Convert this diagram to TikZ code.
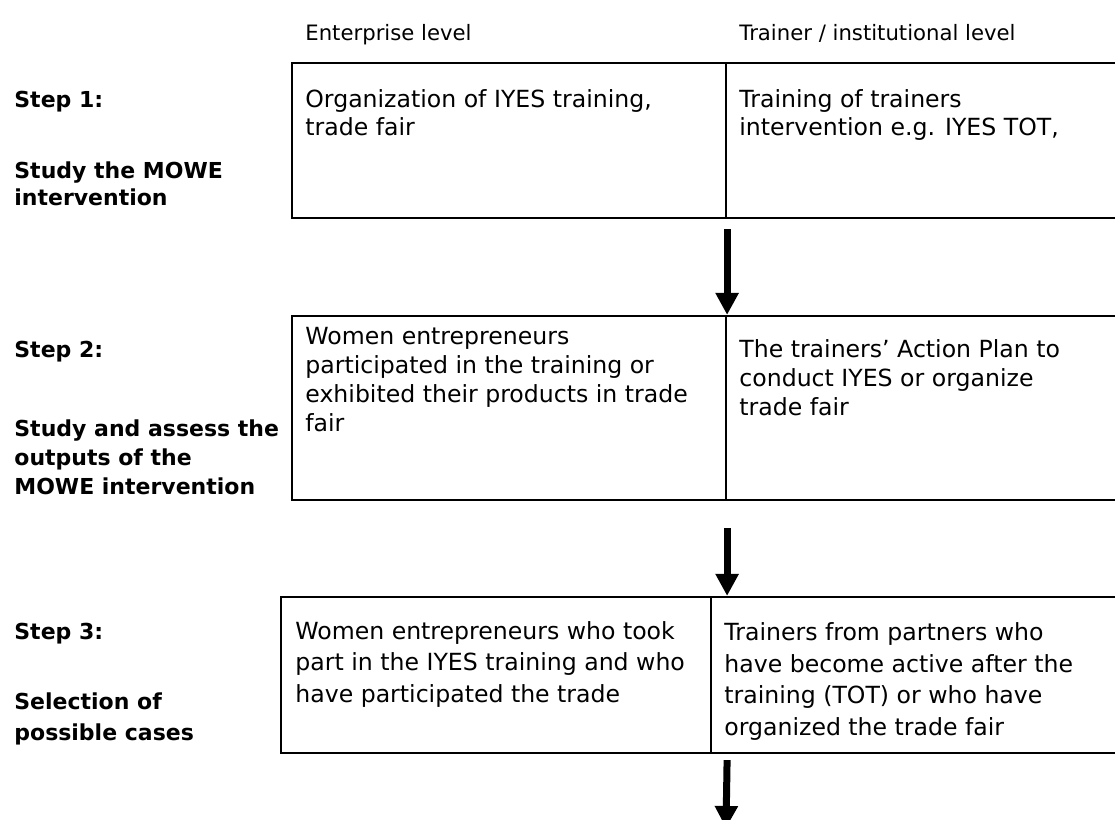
\documentclass[tikz,border=0pt]{standalone}
\usepackage{fontspec}
\setmainfont{DejaVu Sans}
\usepackage{tikz}
\usetikzlibrary{arrows.meta, fit}

% multi-line nodes sit on the baseline of their last line
\tikzset{
    cell/.style={draw, line width=1.1pt, inner sep=0pt},
    head/.style={anchor=base west, inner sep=0pt, font=\fontsize{10.6}{13}\selectfont},
    body/.style={anchor=base west, inner sep=0pt, align=left, font=\fontsize{11.8}{#1}\selectfont},
    body/.default=14.5pt,
    steplabel/.style={anchor=base west, inner sep=0pt, align=left, font=\fontsize{11}{#1}\selectfont\bfseries},
    steplabel/.default=14.5pt,
    flow/.style={-{Triangle[width=11pt, length=11pt]}, line width=3.5pt},
}

\begin{document}
\begin{tikzpicture}[x=0.5pt, y=-0.5pt]
    \useasboundingbox (0,0) rectangle (1115,820);
    \clip (0,0) rectangle (1115,820);

    % column heads
    \node[head] (hent) at (305,40) {Enterprise level};
    \node[head] (htrn) at (739,40) {Trainer / institutional level};

    % step 1
    \node[steplabel] (s1) at (14,107) {Step 1:};
    \node[steplabel=13.5pt] (s1t) at (14,205) {Study the MOWE\\intervention};
    \node[cell, fit={(292,63) (726,218)}] (c1l) {};
    \node[cell, fit={(726,63) (1130,218)}] (c1r) {};
    \node[body=14pt] (t1l) at (305,135) {Organization of IYES training,\\trade fair};
    \node[body=14pt] (t1r) at (739,135) {Training of trainers\\intervention e.g. IYES TOT,};

    % step 2
    \node[steplabel] (s2) at (14,357) {Step 2:};
    \node[steplabel] (s2t) at (14,494) {Study and assess the\\outputs of the\\MOWE intervention};
    \node[cell, fit={(292,316) (726,500)}] (c2l) {};
    \node[cell, fit={(726,316) (1130,500)}] (c2r) {};
    \node[body] (t2l) at (305,431) {Women entrepreneurs\\participated in the training or\\exhibited their products in trade\\fair};
    \node[body] (t2r) at (739,415) {The trainers’ Action Plan to\\conduct IYES or organize\\trade fair};

    % step 3
    \node[steplabel] (s3) at (14,639) {Step 3:};
    \node[steplabel=15.5pt] (s3t) at (14,740) {Selection of\\possible cases};
    \node[cell, fit={(281,597) (711,753)}] (c3l) {};
    \node[cell, fit={(711,597) (1130,753)}] (c3r) {};
    \node[body=15.75pt] (t3l) at (295,702) {Women entrepreneurs who took\\part in the IYES training and who\\have participated the trade};
    \node[body=15.75pt] (t3r) at (724,735) {Trainers from partners who\\have become active after the\\training (TOT) or who have\\organized the trade fair};

    \coordinate (next) at (726,828);

    % arrows between the steps
    \draw[flow] ([yshift=-5pt]c1l.south east) -- (c1l.south east |- c2l.north);
    \draw[flow] ([yshift=-13.5pt]c2l.south east) -- (c2l.south east |- c3l.north);
    \draw[flow] (c2l.south east |- c3l.south) ++(0,-3pt) -- (next);
\end{tikzpicture}
\end{document}
